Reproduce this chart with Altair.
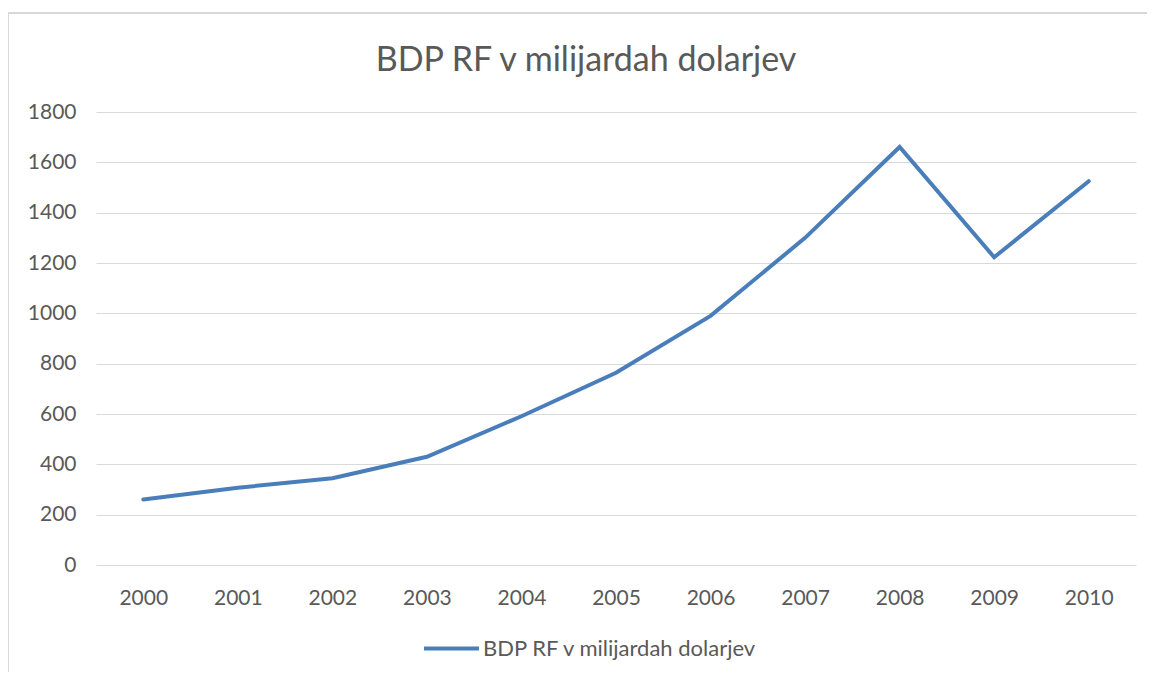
import altair as alt
import pandas as pd

years = ["2000", "2001", "2002", "2003", "2004", "2005", "2006", "2007", "2008", "2009", "2010"]
gdp = [260, 307, 345, 430, 591, 764, 990, 1300, 1661, 1223, 1525]
series_name = "BDP RF v milijardah dolarjev"
chart_title = "BDP RF v milijardah dolarjev"
y_ticks = [0, 200, 400, 600, 800, 1000, 1200, 1400, 1600, 1800]

df = pd.DataFrame({"year": years, "gdp": gdp, "series": [series_name] * len(years)})
title_df = pd.DataFrame({"t": [chart_title]})

FONT = "Lato"
GREY = "#595959"
W, H = 1040, 453

line = alt.Chart(df).mark_line(strokeWidth=4, strokeCap="round", strokeJoin="miter").encode(
    x=alt.X("year:N", sort=years, title=None,
            scale=alt.Scale(paddingInner=0, paddingOuter=0, align=0.5),
            axis=alt.Axis(labelAngle=0, domain=False, ticks=False, labelPadding=22,
                          labelFontSize=21, labelColor=GREY, labelFont=FONT, grid=False)),
    y=alt.Y("gdp:Q", title=None, scale=alt.Scale(domain=[0, 1800], nice=False),
            axis=alt.Axis(values=y_ticks, format="d", domain=False, ticks=False, labelPadding=20,
                          labelFontSize=21, labelColor=GREY, labelFont=FONT,
                          gridColor="#d9d9d9", gridWidth=1)),
    color=alt.Color("series:N", title=None,
                    scale=alt.Scale(domain=[series_name], range=["#4a7ebb"]),
                    legend=alt.Legend(orient="none", legendX=326, legendY=507,
                                      symbolType="stroke", symbolSize=3025,
                                      symbolStrokeWidth=4, labelFontSize=22, labelLimit=0,
                                      labelColor=GREY, labelFont=FONT, labelOffset=2)),
)

title_text = alt.Chart(title_df).mark_text(
    fontSize=34, font=FONT, color=GREY, align="center", baseline="alphabetic"
).encode(text="t:N", x=alt.value(490), y=alt.value(-41))

border_top = alt.Chart(title_df).mark_rule(stroke="#d9d9d9", strokeWidth=2).encode(
    x=alt.value(-88), x2=alt.value(W + 300), y=alt.value(-99)
)
border_left = alt.Chart(title_df).mark_rule(stroke="#d9d9d9", strokeWidth=2).encode(
    x=alt.value(-88), y=alt.value(-99), y2=alt.value(H + 300)
)

chart = alt.layer(border_top, border_left, title_text, line).properties(
    width=W, height=H,
    autosize=alt.AutoSizeParams(type="none"),
    padding={"left": 88, "top": 104, "right": 11, "bottom": 107},
    background="white",
).configure_view(stroke=None)

chart.save("out.html", embed_options={"renderer": "svg", "actions": False})
